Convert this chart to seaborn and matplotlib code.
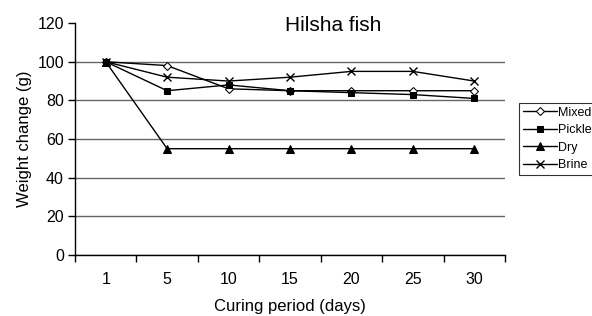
import pandas as pd
import matplotlib.pyplot as plt
import seaborn as sns

# values
days = ["1", "5", "10", "15", "20", "25", "30"]
mixed = [100, 98, 86, 85, 85, 85, 85]
pickle = [100, 85, 88, 85, 84, 83, 81]
dry = [100, 55, 55, 55, 55, 55, 55]
brine = [100, 92, 90, 92, 95, 95, 90]

df = pd.DataFrame({"day": days, "Mixed": mixed, "Pickle": pickle, "Dry": dry, "Brine": brine})
df = df.melt(id_vars="day", var_name="method", value_name="weight")

sns.set_style("white", {"text.color": "black", "axes.labelcolor": "black",
                        "xtick.color": "black", "ytick.color": "black",
                        "xtick.bottom": True, "ytick.left": True})
plt.rcParams["font.family"] = ["Liberation Sans", "DejaVu Sans"]

fig = plt.figure(figsize=(5.92, 3.16), dpi=100)
ax = fig.add_axes([0.1267, 0.193, 0.7263, 0.734])

# marker styles per series (filled and line-art markers can't share one call)
styles = {
    "Mixed": dict(marker="D", markerfacecolor="white", markersize=4.5),
    "Pickle": dict(marker="s", markerfacecolor="black", markersize=5),
    "Dry": dict(marker="^", markerfacecolor="black", markersize=6),
    "Brine": dict(marker="x", markersize=6, markeredgewidth=1),
}
for name, kw in styles.items():
    sub = df[df["method"] == name]
    sns.lineplot(data=sub, x="day", y="weight", color="black", linewidth=1,
                 markeredgecolor="black", label=name, ax=ax, sort=False, **kw)

ax.set_xlim(-0.5, len(days) - 0.5)
ax.set_ylim(0, 120)
ax.set_yticks(range(0, 121, 20))
ax.set_xticks(range(len(days)))
ax.set_xticklabels(days)
ax.set_xticks([i - 0.5 for i in range(len(days) + 1)], minor=True)
ax.tick_params(axis="x", which="major", bottom=False, length=0, pad=12, labelsize=11.5)
ax.tick_params(axis="x", which="minor", bottom=True, length=5, width=1, direction="out", color="black")
ax.tick_params(axis="y", left=True, length=5, width=1, direction="out", color="black", labelsize=11.5, pad=3)

ax.yaxis.grid(True, color="0.4", linewidth=1)
ax.get_ygridlines()[-1].set_visible(False)
ax.set_axisbelow(True)
sns.despine(ax=ax)
for s in ["left", "bottom"]:
    ax.spines[s].set_color("black")
    ax.spines[s].set_linewidth(1)

ax.set_xlabel("Curing period (days)", fontsize=12, labelpad=9)
ax.set_ylabel("Weight change (g)", fontsize=12, labelpad=4)
fig.text(0.563, 0.92, "Hilsha fish", fontsize=15, ha="center", va="center")

leg = ax.legend(loc="center left", bbox_to_anchor=(0.877, 0.56), bbox_transform=fig.transFigure,
                fontsize=9, frameon=True, fancybox=False, edgecolor="black", handlelength=2.7,
                borderpad=0.3, labelspacing=0.45, handletextpad=0.1, borderaxespad=0)
leg.get_frame().set_linewidth(0.8)

fig.savefig("out.png", dpi=100)
